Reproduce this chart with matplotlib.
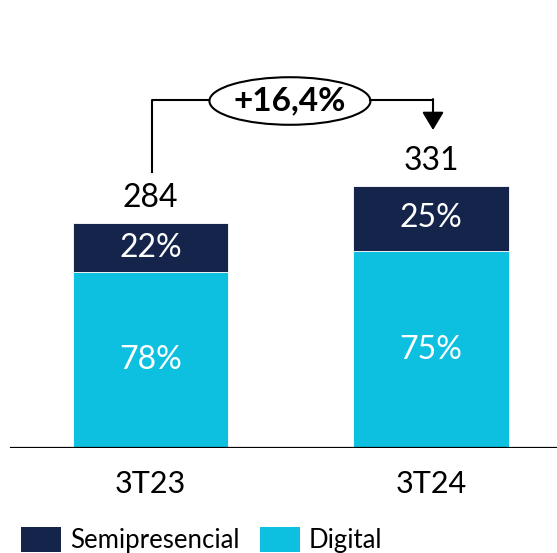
import matplotlib
matplotlib.use("Agg")
import matplotlib.pyplot as plt
from matplotlib.patches import Ellipse, Patch

plt.rcParams['font.family'] = ['Lato', 'DejaVu Sans']

# datos
periodos = ['3T23', '3T24']
totales = [284, 331]
pct_digital = [78, 75]
pct_semi = [22, 25]
variacion = '+16,4%'

color_semi = '#15244a'
color_dig = '#0ec0e0'

digital = [t * p / 100 for t, p in zip(totales, pct_digital)]
semi = [t - d for t, d in zip(totales, digital)]

fig = plt.figure(figsize=(5.57, 5.53), dpi=100)
ax = fig.add_axes([0, 0.19, 1, 0.81])
ax.set_xlim(-0.5365, 1.449)
ax.set_ylim(0, 565)
ax.axis('off')

x = list(range(len(periodos)))
w = 0.553
ax.bar(x, digital, w, color=color_dig, edgecolor='white', linewidth=0.6)
ax.bar(x, semi, w, bottom=digital, color=color_semi, edgecolor='white', linewidth=0.6)
ax.axhline(0, xmin=0.019, xmax=1, color='black', lw=1.6)

fs = 23
for i in x:
    ax.text(i, digital[i] / 2, '{}%'.format(pct_digital[i]), color='white',
            ha='center', va='center', fontsize=fs)
    ax.text(i, digital[i] + semi[i] / 2, '{}%'.format(pct_semi[i]), color='white',
            ha='center', va='center', fontsize=fs)
    ax.text(i, totales[i] + 31, str(totales[i]), color='black',
            ha='center', va='center', fontsize=fs)
    ax.text(i, -46, periodos[i], color='black', ha='center', va='center', fontsize=22)

# flecha de variacion
y_top = 439
ax.plot([0.005, 0.005, 0.21], [348, y_top, y_top], color='black', lw=1.5)
ax.plot([0.784, 1.007], [y_top, y_top], color='black', lw=1.5)
ax.annotate('', xy=(1.007, 401), xytext=(1.007, y_top + 1),
            arrowprops=dict(arrowstyle='-|>,head_length=0.5,head_width=0.3',
                            lw=1.5, color='black', mutation_scale=22,
                            shrinkA=0, shrinkB=0))
ax.add_patch(Ellipse((0.497, 437.6), 0.574, 60, facecolor='white',
                     edgecolor='black', lw=1.5))
ax.text(0.497, 437.6, variacion, ha='center', va='center', fontsize=24,
        fontweight='bold')

handles = [Patch(facecolor=color_semi, label='Semipresencial'),
           Patch(facecolor=color_dig, label='Digital')]
fig.legend(handles=handles, loc='lower left', bbox_to_anchor=(21 / 557, 0.0),
           ncol=2, frameon=False, fontsize=18.5, borderpad=0, borderaxespad=0,
           handlelength=1.55, handleheight=1.15, handletextpad=0.35,
           columnspacing=0.8)

fig.savefig('out.png', dpi=100)
